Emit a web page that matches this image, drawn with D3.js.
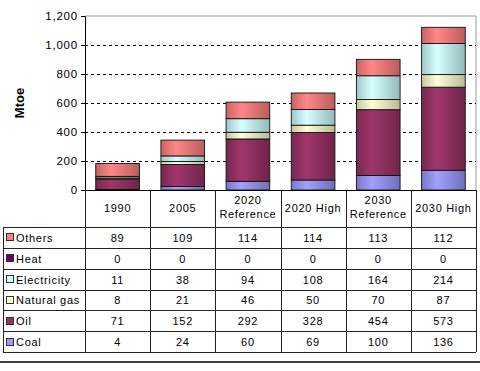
<!DOCTYPE html>
<html>
<head>
<meta charset="utf-8">
<script src="https://cdn.jsdelivr.net/npm/d3@7"></script>
<style>
  body { margin: 0; background: #fff; }
  text { font-family: "Liberation Sans", Arial, sans-serif; }
</style>
</head>
<body>
<div id="chart"></div>
<script>
const width = 480;
const height = 371;

// categories (columns of the data table)
const categories = ["1990", "2005", "2020 Reference", "2020 High", "2030 Reference", "2030 High"];

// series, bottom of stack first
const coal = [4, 24, 60, 69, 100, 136];
const oil = [71, 152, 292, 328, 454, 573];
const naturalGas = [8, 21, 46, 50, 70, 87];
const electricity = [11, 38, 94, 108, 164, 214];
const heat = [0, 0, 0, 0, 0, 0];
const others = [89, 109, 114, 114, 113, 112];

const seriesNames = ["Coal", "Oil", "Natural gas", "Electricity", "Heat", "Others"];
const seriesColors = ["#9999ff", "#993366", "#ffffcc", "#ccffff", "#660066", "#ff8080"];
const yTicks = [0, 200, 400, 600, 800, 1000, 1200];

const seriesValues = [coal, oil, naturalGas, electricity, heat, others];

// table built from the arrays
const rows = categories.map((c, i) => {
  const r = { cat: c };
  seriesNames.forEach((s, j) => r[s] = seriesValues[j][i]);
  return r;
});

const plot = { left: 85, right: 476, top: 16, bottom: 190 };

const svg = d3.select("#chart").append("svg")
  .attr("width", width)
  .attr("height", height);

const defs = svg.append("defs");
seriesColors.forEach((col, i) => {
  const c = d3.color(col);
  const g = defs.append("linearGradient")
    .attr("id", "grad" + i)
    .attr("x1", "0%").attr("x2", "100%")
    .attr("y1", "0%").attr("y2", "0%");
  g.append("stop").attr("offset", "0%").attr("stop-color", c.darker(0.7));
  g.append("stop").attr("offset", "35%").attr("stop-color", c.brighter(0.15));
  g.append("stop").attr("offset", "100%").attr("stop-color", c.darker(0.9));
});

const x = d3.scaleBand()
  .domain(categories)
  .range([plot.left, plot.right])
  .paddingInner(0.33)
  .paddingOuter(0.165);

const col = d3.scaleBand()
  .domain(categories)
  .range([plot.left, plot.right]);

const y = d3.scaleLinear()
  .domain([0, 1200])
  .range([plot.bottom, plot.top]);

// plot frame (top + right, grey)
svg.append("path")
  .attr("d", `M${plot.left},${plot.top}H${plot.right}V${plot.bottom}`)
  .attr("fill", "none")
  .attr("stroke", "#999")
  .attr("stroke-width", 1);

// dashed gridlines
svg.append("g")
  .selectAll("line")
  .data(yTicks.filter(t => t > 0 && t < 1200))
  .join("line")
  .attr("x1", plot.left)
  .attr("x2", plot.right)
  .attr("y1", d => Math.round(y(d)) + 0.5)
  .attr("y2", d => Math.round(y(d)) + 0.5)
  .attr("stroke", "#000")
  .attr("stroke-dasharray", "3,3");

// stacked bars
const stack = d3.stack().keys(seriesNames)(rows);

svg.append("g")
  .selectAll("g")
  .data(stack)
  .join("g")
  .attr("fill", (d, i) => `url(#grad${i})`)
  .selectAll("rect")
  .data(d => d)
  .join("rect")
  .attr("x", d => x(d.data.cat))
  .attr("width", x.bandwidth())
  .attr("y", d => y(d[1]))
  .attr("height", d => y(d[0]) - y(d[1]))
  .attr("stroke", "#111")
  .attr("stroke-width", 0.9);

// y axis
const yAxis = svg.append("g")
  .attr("transform", `translate(${plot.left},0)`)
  .call(d3.axisLeft(y).tickValues(yTicks).tickSize(4).tickFormat(d3.format(",")));
yAxis.select(".domain").attr("stroke", "#000");
yAxis.selectAll(".tick line").attr("stroke", "#000");
yAxis.selectAll("text")
  .attr("x", -7)
  .style("font-size", "11.5px")
  .style("letter-spacing", "0.8px")
  .style("font-family", "Liberation Sans, Arial, sans-serif")
  .attr("fill", "#000");

svg.append("text")
  .attr("transform", `translate(24,${(plot.top + plot.bottom) / 2}) rotate(-90)`)
  .attr("text-anchor", "middle")
  .style("font-size", "13px")
  .style("font-weight", "bold")
  .text("Mtoe");

// data table
const headTop = plot.bottom;
const headBottom = 227;
const tableBottom = 352;
const labelLeft = 3;
const rowH = (tableBottom - headBottom) / seriesNames.length;
const tableRows = seriesNames.slice().reverse(); // Others first

const table = svg.append("g").style("letter-spacing", "0.7px");
const lineColor = "#222";

// horizontal lines
table.append("line")
  .attr("x1", plot.left).attr("x2", plot.right)
  .attr("y1", headTop + 0.5).attr("y2", headTop + 0.5)
  .attr("stroke", "#000");
d3.range(tableRows.length + 1).forEach(i => {
  const yy = Math.round(headBottom + i * rowH) + 0.5;
  table.append("line")
    .attr("x1", labelLeft).attr("x2", plot.right)
    .attr("y1", yy).attr("y2", yy)
    .attr("stroke", lineColor);
});

// vertical lines
categories.forEach(c => {
  table.append("line")
    .attr("x1", Math.round(col(c)) + 0.5).attr("x2", Math.round(col(c)) + 0.5)
    .attr("y1", headTop).attr("y2", tableBottom)
    .attr("stroke", lineColor);
});
table.append("line")
  .attr("x1", plot.right + 0.5).attr("x2", plot.right + 0.5)
  .attr("y1", headTop).attr("y2", tableBottom)
  .attr("stroke", lineColor);
table.append("line")
  .attr("x1", labelLeft + 0.5).attr("x2", labelLeft + 0.5)
  .attr("y1", headBottom).attr("y2", tableBottom)
  .attr("stroke", lineColor);

// header labels
categories.forEach(c => {
  const parts = c.split(" ");
  const cx = col(c) + col.bandwidth() / 2;
  const t = table.append("text")
    .attr("text-anchor", "middle")
    .style("font-size", "11px");
  if (parts.length > 1 && parts[1] === "Reference") {
    t.append("tspan").attr("x", cx).attr("y", 204).text(parts[0]);
    t.append("tspan").attr("x", cx).attr("y", 218).text(parts[1]);
  } else {
    t.attr("x", cx).attr("y", 212).text(c);
  }
});

// row labels, swatches and values
tableRows.forEach((s, i) => {
  const si = seriesNames.indexOf(s);
  const cy = headBottom + i * rowH + rowH / 2;
  table.append("rect")
    .attr("x", 6.5).attr("y", Math.round(cy - 4) + 0.5)
    .attr("width", 7).attr("height", 7)
    .attr("fill", seriesColors[si])
    .attr("stroke", "#333")
    .attr("stroke-width", 1);
  table.append("text")
    .attr("x", 16)
    .attr("y", cy + 4.5)
    .style("font-size", "11px")
    .text(s);
  rows.forEach(r => {
    table.append("text")
      .attr("x", col(r.cat) + col.bandwidth() / 2)
      .attr("y", cy + 4.5)
      .attr("text-anchor", "middle")
      .style("font-size", "11px")
      .text(r[s]);
  });
});

// separator line below the chart
svg.append("line")
  .attr("x1", 0).attr("x2", width)
  .attr("y1", 362).attr("y2", 362)
  .attr("stroke", "#000")
  .attr("stroke-width", 1.5);
</script>
</body>
</html>
